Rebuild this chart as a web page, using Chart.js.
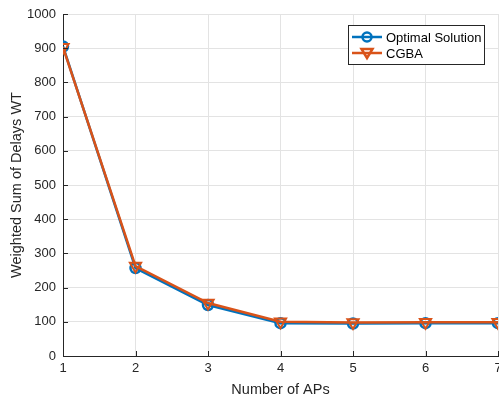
<!DOCTYPE html>
<html>
<head>
<meta charset="utf-8">
<script src="https://cdn.jsdelivr.net/npm/chart.js@4"></script>
<style>
  html, body { margin: 0; padding: 0; background: #fff; }
  #wrap { width: 499px; height: 399px; position: relative; }
</style>
</head>
<body>
<div id="wrap"><canvas id="chart"></canvas></div>
<script>
const numAPs = [1, 2, 3, 4, 5, 6, 7];
const optimalWT = [905, 257, 149, 96, 95, 96, 96];
const cgbaWT = [903, 263, 155, 100, 98, 99, 99];
const yTicks = [0, 100, 200, 300, 400, 500, 600, 700, 800, 900, 1000];

const FONT = "'Liberation Sans', Arial, sans-serif";
const BLUE = "#0072BD";
const ORANGE = "#D95319";
const AXIS = "#262626";

const toPoints = (ys) => numAPs.map((x, i) => ({ x, y: ys[i] }));

// MATLAB draws its tick marks pointing into the plot
const innerTicks = {
  id: "innerTicks",
  afterDatasetsDraw(chart) {
    const { ctx, chartArea, scales } = chart;
    ctx.save();
    ctx.strokeStyle = AXIS;
    ctx.lineWidth = 1;
    ctx.beginPath();
    scales.x.ticks.forEach((t) => {
      const px = Math.round(scales.x.getPixelForValue(t.value)) + 0.5;
      ctx.moveTo(px, chartArea.bottom);
      ctx.lineTo(px, chartArea.bottom - 5);
    });
    scales.y.ticks.forEach((t) => {
      const py = Math.round(scales.y.getPixelForValue(t.value)) + 0.5;
      ctx.moveTo(chartArea.left, py);
      ctx.lineTo(chartArea.left + 5, py);
    });
    ctx.stroke();
    ctx.restore();
  }
};

// legend drawn inside the plot, MATLAB style
const boxLegend = {
  id: "boxLegend",
  afterDatasetsDraw(chart) {
    const ctx = chart.ctx;
    const x0 = 348, y0 = 25, w = 136, h = 39;
    ctx.save();
    ctx.fillStyle = "#fff";
    ctx.fillRect(x0, y0, w, h);
    ctx.strokeStyle = AXIS;
    ctx.lineWidth = 1;
    ctx.strokeRect(x0 + 0.5, y0 + 0.5, w, h);
    const rows = [
      { label: "Optimal Solution", color: BLUE, marker: "circle", y: y0 + 12 },
      { label: "CGBA", color: ORANGE, marker: "tri", y: y0 + 28 }
    ];
    rows.forEach((r) => {
      ctx.strokeStyle = r.color;
      ctx.lineWidth = 2.5;
      ctx.beginPath();
      ctx.moveTo(352, r.y);
      ctx.lineTo(382, r.y);
      ctx.stroke();
      ctx.beginPath();
      if (r.marker === "circle") {
        ctx.arc(367, r.y, 4.5, 0, Math.PI * 2);
      } else {
        ctx.moveTo(361.5, r.y - 4);
        ctx.lineTo(372.5, r.y - 4);
        ctx.lineTo(367, r.y + 5);
        ctx.closePath();
      }
      ctx.stroke();
      ctx.fillStyle = "#000";
      ctx.font = "13px " + FONT;
      ctx.textBaseline = "middle";
      ctx.fillText(r.label, 386, r.y + 1);
    });
    ctx.restore();
  }
};

new Chart(document.getElementById("chart"), {
  type: "line",
  data: {
    datasets: [
      {
        label: "Optimal Solution",
        data: toPoints(optimalWT),
        borderColor: BLUE,
        backgroundColor: "rgba(0,0,0,0)",
        borderWidth: 2.5,
        pointStyle: "circle",
        pointRadius: 5,
        pointBorderWidth: 2.5,
        pointBorderColor: BLUE,
        order: 2
      },
      {
        label: "CGBA",
        data: toPoints(cgbaWT),
        borderColor: ORANGE,
        backgroundColor: "rgba(0,0,0,0)",
        borderWidth: 2.5,
        pointStyle: "triangle",
        pointRotation: 180,
        pointRadius: 6.5,
        pointBorderWidth: 2,
        pointBorderColor: ORANGE,
        order: 1
      }
    ]
  },
  options: {
    responsive: true,
    maintainAspectRatio: false,
    animation: false,
    layout: { autoPadding: false, padding: { left: 0, right: 1, top: 14, bottom: 0 } },
    plugins: {
      legend: { display: false },
      tooltip: { enabled: false }
    },
    scales: {
      x: {
        type: "linear",
        min: 1,
        max: 7,
        afterBuildTicks: (s) => { s.ticks = numAPs.map((v) => ({ value: v })); },
        afterFit: (s) => { s.height = 43; s.paddingLeft = 0; s.paddingRight = 0; },
        ticks: { color: AXIS, font: { family: FONT, size: 13 }, padding: 5, maxRotation: 0, callback: (v) => String(v) },
        grid: { color: "#e3e3e3", drawTicks: false },
        border: { color: AXIS, width: 1 },
        title: { display: true, text: "Number of APs", color: AXIS, font: { family: FONT, size: 14.5 }, padding: { top: 0, bottom: 0 } }
      },
      y: {
        min: 0,
        max: 1000,
        afterBuildTicks: (s) => { s.ticks = yTicks.map((v) => ({ value: v })); },
        afterFit: (s) => { s.width = 63; s.paddingTop = 0; s.paddingBottom = 0; },
        ticks: { color: AXIS, font: { family: FONT, size: 13 }, padding: 7, callback: (v) => String(v) },
        grid: { color: "#e3e3e3", drawTicks: false },
        border: { color: AXIS, width: 1 },
        title: { display: true, text: "Weighted Sum of Delays WT", color: AXIS, font: { family: FONT, size: 14.5 }, padding: { top: 8, bottom: 0 } }
      }
    }
  },
  plugins: [innerTicks, boxLegend]
});
</script>
</body>
</html>
